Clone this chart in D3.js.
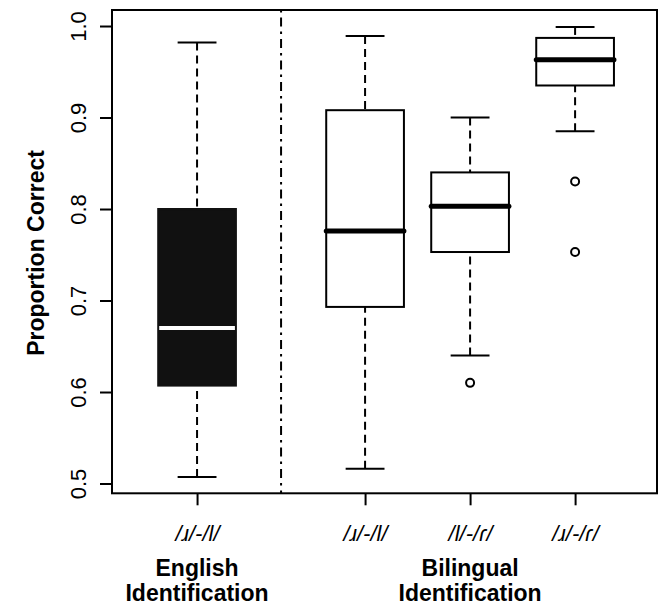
<!DOCTYPE html>
<html>
<head>
<meta charset="utf-8">
<script src="https://cdn.jsdelivr.net/npm/d3@7"></script>
<style>
  html, body { margin: 0; padding: 0; background: #fff; }
  svg { display: block; font-family: "Liberation Sans", Arial, Helvetica, sans-serif; }
</style>
</head>
<body>
<svg id="chart" width="660" height="605"></svg>
<script>
// ---- data ----
const categories  = ["/ɹ/-/l/", "/ɹ/-/l/", "/l/-/ɾ/", "/ɹ/-/ɾ/"];
const groupOf     = [0, 1, 1, 1];
const groupNames  = [["English", "Identification"], ["Bilingual", "Identification"]];
const whiskerLow  = [0.507, 0.516, 0.640, 0.885];
const q1          = [0.607, 0.693, 0.753, 0.935];
const medians     = [0.670, 0.776, 0.803, 0.963];
const q3          = [0.800, 0.908, 0.840, 0.987];
const whiskerHigh = [0.982, 0.989, 0.900, 0.999];
const outliers    = [[], [], [0.610], [0.830, 0.753]];
const yTicks      = [0.5, 0.6, 0.7, 0.8, 0.9, 1.0];

// ---- layout ----
const slot = [1, 2.6, 3.6, 4.6];       // box slots (gap between groups)
const dividerSlot = 1.8;
const boxHalf = 0.37;                  // half box width in slot units
const plot = { left: 112, right: 657, top: 10, bottom: 493.3 };

const svg = d3.select("#chart");
const x = d3.scaleLinear().domain([0.19, 5.38]).range([plot.left, plot.right]);
const y = d3.scaleLinear().domain([0.4893, 1.0175]).range([plot.bottom, plot.top]);

const boxes = categories.map((c, i) => ({
  i, c, pos: slot[i], lo: whiskerLow[i], q1: q1[i], med: medians[i], q3: q3[i], hi: whiskerHigh[i],
  out: outliers[i], filled: groupOf[i] === 0
}));

// divider (dot-dash)
svg.append("line")
  .attr("x1", x(dividerSlot)).attr("x2", x(dividerSlot))
  .attr("y1", plot.top).attr("y2", plot.bottom)
  .attr("stroke", "#000").attr("stroke-width", 2)
  .attr("stroke-dasharray", "2.5,5,9,5");

const g = svg.append("g").selectAll("g").data(boxes).join("g");

// whiskers (dashed, drawn from whisker end towards hinge)
g.append("line")
  .attr("x1", d => x(d.pos)).attr("x2", d => x(d.pos))
  .attr("y1", d => y(d.hi)).attr("y2", d => y(d.q3))
  .attr("stroke", "#000").attr("stroke-width", 2).attr("stroke-dasharray", "8,5");
g.append("line")
  .attr("x1", d => x(d.pos)).attr("x2", d => x(d.pos))
  .attr("y1", d => y(d.lo)).attr("y2", d => y(d.q1))
  .attr("stroke", "#000").attr("stroke-width", 2).attr("stroke-dasharray", "8,5");

// caps
["hi", "lo"].forEach(k => {
  g.append("line")
    .attr("x1", d => x(d.pos - boxHalf / 2)).attr("x2", d => x(d.pos + boxHalf / 2))
    .attr("y1", d => y(d[k])).attr("y2", d => y(d[k]))
    .attr("stroke", "#000").attr("stroke-width", 2);
});

// boxes
g.append("rect")
  .attr("x", d => x(d.pos - boxHalf))
  .attr("width", d => x(d.pos + boxHalf) - x(d.pos - boxHalf))
  .attr("y", d => y(d.q3))
  .attr("height", d => y(d.q1) - y(d.q3))
  .attr("fill", d => d.filled ? "#111" : "#fff")
  .attr("stroke", d => d.filled ? "#111" : "#000")
  .attr("stroke-width", 2);

// medians
g.append("line")
  .attr("x1", d => x(d.pos - boxHalf) + (d.filled ? 1 : 0))
  .attr("x2", d => x(d.pos + boxHalf) - (d.filled ? 1 : 0))
  .attr("y1", d => y(d.med)).attr("y2", d => y(d.med))
  .attr("stroke", d => d.filled ? "#fff" : "#000")
  .attr("stroke-width", d => d.filled ? 4 : 5)
  .attr("stroke-linecap", d => d.filled ? "butt" : "round");

// outliers
g.selectAll("circle").data(d => d.out.map(v => ({ pos: d.pos, v }))).join("circle")
  .attr("cx", d => x(d.pos)).attr("cy", d => y(d.v)).attr("r", 4)
  .attr("fill", "#fff").attr("stroke", "#000").attr("stroke-width", 2);

// frame
svg.append("rect")
  .attr("x", plot.left).attr("y", plot.top)
  .attr("width", plot.right - plot.left).attr("height", plot.bottom - plot.top)
  .attr("fill", "none").attr("stroke", "#000").attr("stroke-width", 2);

// y axis
const yAxis = svg.append("g")
  .attr("transform", `translate(${plot.left},0)`)
  .call(d3.axisLeft(y).tickValues(yTicks).tickSize(12).tickFormat(d3.format(".1f")));
yAxis.select(".domain").remove();
yAxis.selectAll(".tick line").attr("stroke", "#000").attr("stroke-width", 2);
yAxis.selectAll(".tick text")
  .attr("transform", "rotate(-90)")
  .attr("x", 0).attr("y", -26).attr("dy", 0)
  .attr("text-anchor", "middle")
  .attr("font-size", 22).attr("fill", "#000")
  .style("font-family", "'Liberation Sans', Arial, sans-serif");

svg.append("text")
  .attr("transform", `translate(44,253) rotate(-90)`)
  .attr("text-anchor", "middle")
  .attr("font-size", 23).attr("font-weight", "bold")
  .text("Proportion Correct");

// x axis
const xAxis = svg.append("g")
  .attr("transform", `translate(0,${plot.bottom})`)
  .call(d3.axisBottom(x).tickValues(slot).tickSize(12).tickFormat((d, i) => categories[i]));
xAxis.select(".domain").remove();
xAxis.selectAll(".tick line").attr("stroke", "#000").attr("stroke-width", 2);
xAxis.selectAll(".tick text")
  .attr("y", 48).attr("dy", 0)
  .attr("font-size", 22).attr("font-style", "italic").attr("fill", "#000")
  .style("font-family", "'Liberation Sans', Arial, sans-serif");

// group labels
const groupCenters = [slot[0], slot[2]];
groupNames.forEach((lines, gi) => {
  const t = svg.append("text")
    .attr("text-anchor", "middle")
    .attr("font-size", 23).attr("font-weight", "bold");
  lines.forEach((ln, li) => {
    t.append("tspan").attr("x", x(groupCenters[gi])).attr("y", 576 + li * 25).text(ln);
  });
});
</script>
</body>
</html>
